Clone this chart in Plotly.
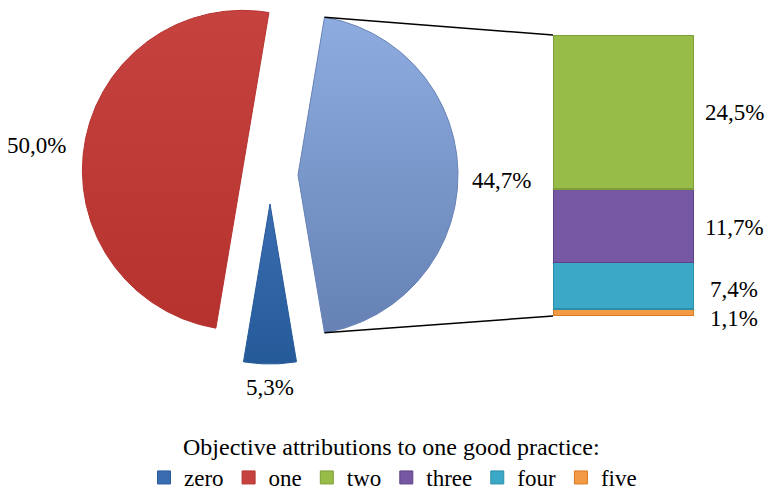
import numpy as np
import plotly.graph_objects as go

# ---------------- data ----------------
pie_labels = ["zero", "one"]
pie_values = [5.3, 50.0]
bar_labels = ["two", "three", "four", "five"]
bar_values = [24.5, 11.7, 7.4, 1.1]
other_value = round(sum(bar_values), 1)  # 44.7 -> the split-off slice
legend_title = "Objective attributions to one good practice:"
legend_order = ["zero", "one", "two", "three", "four", "five"]

# ---------------- style ----------------
W, H = 772, 491
FONT = "Liberation Serif"
FS = 23
FS_TITLE = 24
FS_LEG = 23
colors = {
    "zero": ("#3A6DB0", "#255A99"),
    "one": ("#C6423E", "#B5322F"),
    "other": ("#8EACE0", "#6682B5"),
    "two": ("#98BC48", "#7E9E37"),
    "three": ("#7657A3", "#5E4287"),
    "four": ("#3AA8C6", "#2C8EA9"),
    "five": ("#F39A45", "#D97A25"),
}
# pie geometry (pixel space)
CX, CY, R = 270, 175, 160
EXPLODE = {"other": 28, "zero": 29, "one": 28}
# bar box (pixel space)
BAR_X0, BAR_X1, BAR_TOP, BAR_BOTTOM = 553, 694, 35, 316
label_pos = {"one": (36, 145), "zero": (270, 387), "other": (501, 180)}
BAR_LABEL_X = 734


def fmt(v):
    return f"{v:.1f}%".replace(".", ",")


fig = go.Figure()

# ---- pie slices (clockwise from the split-off slice, centred on the right) ----
slices = [("other", other_value), ("zero", pie_values[0]), ("one", pie_values[1])]
total = sum(v for _, v in slices)
angle = 90 - other_value / total * 360 / 2
arc_ends = {}
for name, val in slices:
    sweep = val / total * 360
    a0, a1 = angle, angle + sweep
    mid = np.radians((a0 + a1) / 2)
    e = EXPLODE[name]
    vx, vy = CX + e * np.sin(mid), CY - e * np.cos(mid)
    ang = np.radians(np.linspace(a0, a1, max(int(sweep * 2), 2)))
    xs = np.concatenate([[vx], vx + R * np.sin(ang), [vx]])
    ys = np.concatenate([[vy], vy - R * np.cos(ang), [vy]])
    c_top, c_bot = colors[name]
    fig.add_trace(go.Scatter(
        x=xs, y=ys, mode="lines", fill="toself",
        line=dict(color=c_bot, width=1),
        fillgradient=dict(type="vertical", colorscale=[[0, c_bot], [1, c_top]]),
        showlegend=False, hoverinfo="skip", xaxis="x", yaxis="y",
    ))
    arc_ends[name] = ((xs[1], ys[1]), (xs[-2], ys[-2]))
    lx, ly = label_pos[name]
    fig.add_annotation(x=lx, y=ly, xref="x", yref="y", text=fmt(val),
                       xanchor="center", yanchor="middle",
                       showarrow=False, font=dict(family=FONT, size=FS, color="black"))
    angle = a1

# ---- connector lines from the split slice to the bar ----
(tx, ty), (bx, by) = arc_ends["other"]
for (sx, sy), (ex, ey) in [((tx, ty), (BAR_X0, BAR_TOP)), ((bx, by), (BAR_X0, BAR_BOTTOM))]:
    fig.add_trace(go.Scatter(x=[sx, ex], y=[sy, ey], mode="lines",
                             line=dict(color="black", width=1.5),
                             showlegend=False, hoverinfo="skip", xaxis="x", yaxis="y"))

# ---- stacked bar (bottom to top: five, four, three, two) ----
cum = 0
centers = {}
for name, val in reversed(list(zip(bar_labels, bar_values))):
    c_top, c_bot = colors[name]
    fig.add_trace(go.Bar(
        x=[0], y=[val], width=1, marker=dict(color=c_top, line=dict(color=c_bot, width=1.5)),
        showlegend=False, hoverinfo="skip", xaxis="x2", yaxis="y2",
    ))
    centers[name] = cum + val / 2
    cum += val

label_shift = {"two": 0, "three": -2, "four": -4, "five": -6}
for name, val in zip(bar_labels, bar_values):
    fig.add_annotation(x=BAR_LABEL_X / W, xref="paper", y=centers[name], yref="y2",
                       xanchor="center", yanchor="middle",
                       yshift=label_shift[name], text=fmt(val), showarrow=False,
                       font=dict(family=FONT, size=FS, color="black"))

# ---- legend entries ----
for name in legend_order:
    c_top, c_bot = colors[name]
    fig.add_trace(go.Scatter(
        x=[None], y=[None], mode="markers", name=name,
        marker=dict(symbol="square", size=13, color=c_top, line=dict(color=c_bot, width=1)),
        xaxis="x", yaxis="y",
    ))

fig.add_annotation(x=391 / W, y=1 - 447 / H, xref="paper", yref="paper", text=legend_title,
                   xanchor="center", yanchor="middle",
                   showarrow=False, font=dict(family=FONT, size=FS_TITLE, color="black"))

fig.update_layout(
    width=W, height=H,
    margin=dict(l=0, r=0, t=0, b=0, autoexpand=False),
    paper_bgcolor="white", plot_bgcolor="rgba(0,0,0,0)",
    barmode="stack",
    xaxis=dict(range=[0, W], visible=False, domain=[0, 1], fixedrange=True),
    yaxis=dict(range=[H, 0], visible=False, domain=[0, 1], fixedrange=True),
    xaxis2=dict(range=[-0.5, 0.5], visible=False, domain=[BAR_X0 / W, BAR_X1 / W], anchor="y2"),
    yaxis2=dict(range=[0, other_value], visible=False,
                domain=[1 - BAR_BOTTOM / H, 1 - BAR_TOP / H], anchor="x2"),
    legend=dict(orientation="h", x=393 / W, xanchor="center", y=-8 / H, yanchor="bottom",
                traceorder="normal",
                font=dict(family=FONT, size=FS_LEG, color="black"), bgcolor="rgba(0,0,0,0)",
                itemwidth=30, tracegroupgap=0),
    showlegend=True,
)

fig.write_html("out.html")
